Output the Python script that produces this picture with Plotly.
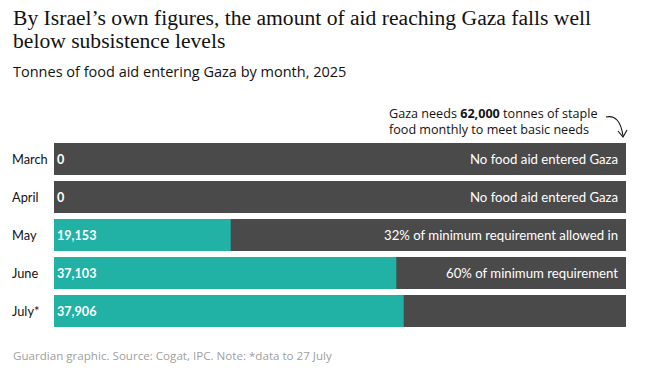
import plotly.graph_objects as go

months = ["March", "April", "May", "June", "July*"]
tonnes = [0, 0, 19153, 37103, 37906]
value_labels = ["0", "0", "19,153", "37,103", "37,906"]
notes = ["No food aid entered Gaza", "No food aid entered Gaza",
         "32% of minimum requirement allowed in", "60% of minimum requirement", ""]
need = 62000

W, H = 646, 375
L, R, T, B = 54, 20, 140, 45
pw, ph = W - L - R, H - T - B

def px(x):
    return (x - L) / pw

def py(y):
    return (H - B - y) / ph

TEAL = "#21b2a5"
GREY = "#4a4a4a"
OPEN = "Open Sans, sans-serif"
LATO = "Lato, sans-serif"
SERIF = "Liberation Serif, serif"
INK = "#121212"

fig = go.Figure()
fig.add_trace(go.Bar(y=months, x=[need] * len(months), orientation="h",
                     marker=dict(color=GREY, line=dict(width=0)), hoverinfo="skip"))
fig.add_trace(go.Bar(y=months, x=tonnes, orientation="h",
                     marker=dict(color=TEAL, line=dict(width=0)), hoverinfo="skip"))

ann = []
for m, v, n in zip(months, value_labels, notes):
    ann.append(dict(x=px(10), xref="paper", y=m, yref="y", text=m, showarrow=False,
                    xanchor="left", font=dict(family=LATO, size=12.8, color=INK)))
    ann.append(dict(x=px(55), xref="paper", y=m, yref="y", text="<b>" + v + "</b>", showarrow=False,
                    xanchor="left", font=dict(family=LATO, size=12.6, color="white")))
    if n:
        ann.append(dict(x=px(620), xref="paper", y=m, yref="y", text=n, showarrow=False,
                        xanchor="right", font=dict(family=LATO, size=13.2, color="white")))

def text_at(x, y, text, size, color=INK, family=OPEN, anchor="left"):
    return dict(x=px(x), xref="paper", y=py(y), yref="paper", text=text, showarrow=False,
                xanchor=anchor, yanchor="middle", align="left",
                font=dict(family=family, size=size, color=color))

ann += [
    text_at(11, 18, "By Israel’s own figures, the amount of aid reaching Gaza falls well", 21.6, family=SERIF),
    text_at(11, 41, "below subsistence levels", 21.6, family=SERIF),
    text_at(11, 71, "Tonnes of food aid entering Gaza by month, 2025", 14.5),
    text_at(387, 113, "Gaza needs <b>62,000</b> tonnes of staple", 12.6),
    text_at(387, 129, "food monthly to meet basic needs", 12.6),
    text_at(11, 355, "Guardian graphic. Source: Cogat, IPC. Note: *data to 27 July", 11.6, color="#a0a0a0"),
]

fig.update_layout(
    width=W, height=H, margin=dict(l=L, r=R, t=T, b=B),
    paper_bgcolor="white", plot_bgcolor="white",
    barmode="overlay", bargap=6 / 38, showlegend=False,
    xaxis=dict(range=[0, need], visible=False, fixedrange=True),
    yaxis=dict(autorange="reversed", visible=False, fixedrange=True),
    annotations=ann,
    shapes=[
        dict(type="path", xref="paper", yref="paper",
             path=f"M {px(606)} {py(117)} Q {px(620)} {py(114)} {px(623)} {py(136)}",
             line=dict(color=INK, width=1.1)),
        dict(type="path", xref="paper", yref="paper",
             path=f"M {px(618)} {py(131)} L {px(623)} {py(137)} L {px(627)} {py(130)}",
             line=dict(color=INK, width=1.1)),
    ],
)

fig.write_html("out.html", config={"displayModeBar": False},
               post_script="document.body.style.margin='0';document.body.style.overflow='hidden';")
